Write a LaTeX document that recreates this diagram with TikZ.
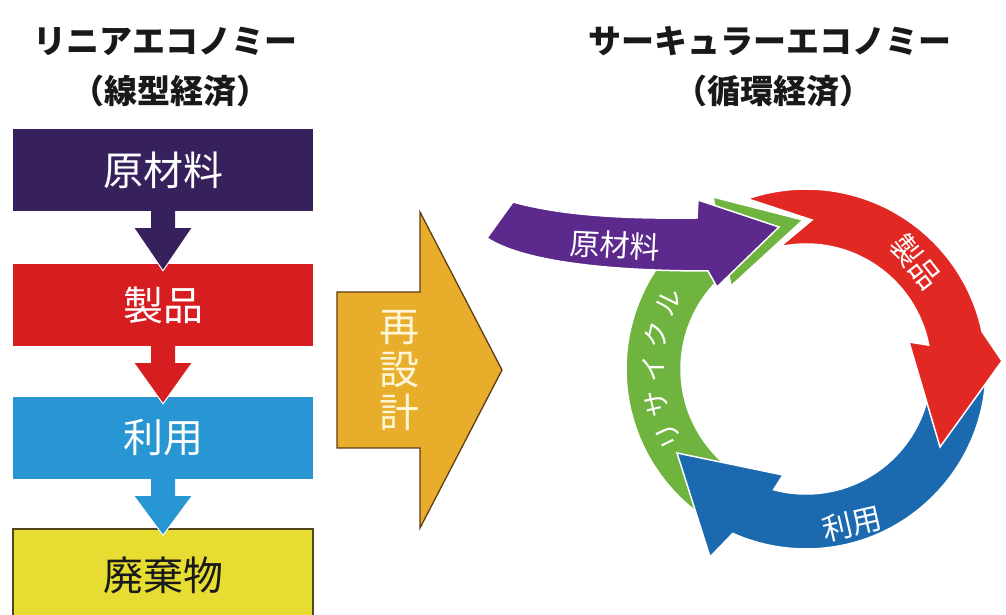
\documentclass[tikz,border=0pt]{standalone}
\usepackage{fontspec}
\newfontfamily\jp{Noto Sans CJK JP}
\usetikzlibrary{calc}
\definecolor{lpurple}{RGB}{54,33,92}
\definecolor{lred}{RGB}{214,30,32}
\definecolor{lblue}{RGB}{40,150,210}
\definecolor{lyellow}{RGB}{230,220,50}
\definecolor{ybord}{RGB}{80,70,30}
\definecolor{gold}{RGB}{232,174,43}
\definecolor{goldb}{RGB}{95,60,20}
\definecolor{cream}{RGB}{255,246,216}
\definecolor{cpurple}{RGB}{92,42,140}
\definecolor{cred}{RGB}{226,40,34}
\definecolor{cblue}{RGB}{27,106,176}
\definecolor{cgreen}{RGB}{110,180,62}
\definecolor{ink}{RGB}{25,25,25}
\tikzset{
  title/.style={font=\jp\bfseries\fontsize{33}{36}\selectfont, text=ink, inner sep=0pt},
  box/.style={minimum width=300pt, minimum height=82pt, inner sep=0pt, font=\jp\fontsize{40}{44}\selectfont, text=white},
  ring/.style={draw=white, line width=1.5pt},
  ringtext/.style={font=\jp\fontsize{30}{32}\selectfont, text=white, inner sep=0pt},
  greentext/.style={font=\jp\fontsize{27}{30}\selectfont, text=white, inner sep=0pt},
  tipline/.style={draw=white, line width=1pt}
}
\newcommand\linarrow[3]{%
  \fill[#3] ([xshift=-12pt]#1.south) -- ([xshift=-12pt,yshift=-17pt]#1.south) -- ([xshift=-29pt,yshift=-17pt]#1.south) -- ([yshift=-7pt]#2.north) -- ([xshift=29pt,yshift=-17pt]#1.south) -- ([xshift=12pt,yshift=-17pt]#1.south) -- ([xshift=12pt]#1.south) -- cycle;
  \draw[tipline] ([xshift=-29pt,yshift=-17pt]#1.south) -- ([yshift=-7pt]#2.north) -- ([xshift=29pt,yshift=-17pt]#1.south);
}
\begin{document}
\begin{tikzpicture}[x=1pt,y=1pt]
\useasboundingbox (0,0) rectangle (1006,615);
\fill[white] (0,0) rectangle (1006,615);

% titles
\node[title] (t1) at (165,574) {リニアエコノミー};
\node[title] (t2) at (170,524) {（線型経済）};
\node[title] (t3) at (770,574) {サーキュラーエコノミー};
\node[title] (t4) at (773,524) {（循環経済）};

% linear economy
\node[box, fill=lpurple] (b1) at (163,445) {原材料};
\node[box, fill=lred] (b2) at (163,310) {製品};
\node[box, fill=lblue] (b3) at (163,177) {利用};
\node[box, fill=lyellow, draw=ybord, line width=1.2pt, text=ink, minimum height=92pt] (b4) at (163,40) {廃棄物};
\linarrow{b1}{b2}{lpurple}
\linarrow{b2}{b3}{lred}
\linarrow{b3}{b4}{lblue}

% redesign arrow
\draw[fill=gold, draw=goldb, line width=1.3pt] (337,323) -- (420,323) -- (420,403) -- (502,245) -- (420,87) -- (420,167) -- (337,167) -- cycle;
\node[font=\jp\fontsize{40}{43}\selectfont, text=cream, align=center, inner sep=0pt] (rd) at (399,244) {再\\設\\計};

% circular economy
\coordinate (C) at (806,246);
% green (recycle): band and head
\filldraw[fill=cgreen, ring] ([shift={(C)}]236:180) arc[start angle=236, end angle=127, radius=180] -- ([shift={(C)}]127:125) arc[start angle=127, end angle=236, radius=125] -- cycle;
\filldraw[fill=cgreen, ring] (713,418) -- (803,395) -- (731,329) -- cycle;
% blue (use)
\filldraw[fill=cblue, ring] ([shift={(C)}]3:180) arc[start angle=3, end angle=-114, radius=180] -- (710,58) -- (677,162) -- (783,140) -- ([shift={(C)}]-105:125) arc[start angle=-105, end angle=3, radius=125] -- cycle;
% red (product)
\filldraw[fill=cred, ring] ([shift={(C)}]109:180) arc[start angle=109, end angle=12, radius=180] -- (1002,254) -- (940,168) -- (909,273) -- ([shift={(C)}]11:125) arc[start angle=11, end angle=102, radius=125] -- (812,395) -- cycle;
% purple (raw material)
\filldraw[fill=cpurple, ring] (487,377) -- (513,413) .. controls (560,400) and (620,396) .. (697,397) -- (698,415) -- (779,388) -- (717,328) -- (708,344) .. controls (600,344) and (520,355) .. (487,377) -- cycle;

\node[ringtext, rotate=-3] (rm) at (615,370) {原材料};
\node[ringtext, rotate=-52] (pr) at (916,353) {製品};
\node[ringtext, rotate=13] (us) at (852,91) {利用};
\node[greentext, rotate=116] (g1) at ([shift={(C)}]206:153) {リ};
\node[greentext, rotate=103] (g2) at ([shift={(C)}]193:153) {サ};
\node[greentext, rotate=90] (g3) at ([shift={(C)}]180:153) {イ};
\node[greentext, rotate=77] (g4) at ([shift={(C)}]167:153) {ク};
\node[greentext, rotate=64] (g5) at ([shift={(C)}]154:153) {ル};
\end{tikzpicture}
\end{document}
